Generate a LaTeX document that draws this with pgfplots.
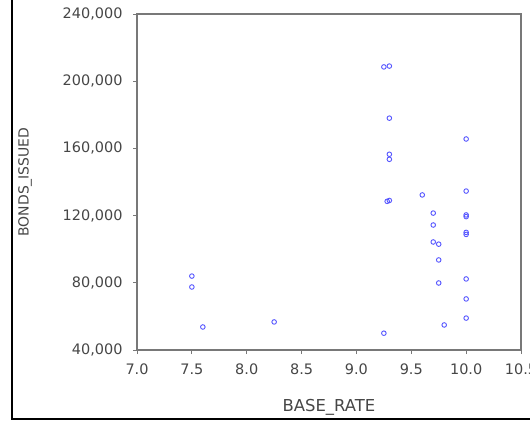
\documentclass[border=0pt]{standalone}
\usepackage{pgfplots}
\pgfplotsset{compat=1.18}
\usepackage{fontspec}
\setmainfont{DejaVu Sans}
\definecolor{ptblue}{RGB}{85,85,255}
\definecolor{framegray}{RGB}{120,120,120}
\definecolor{labgray}{RGB}{70,70,70}

\begin{document}
\begin{tikzpicture}[x=1bp,y=1bp]
\path[use as bounding box] (0,0) rectangle (530,421);
% outer frame (left and bottom edges of the window)
\draw[black, line width=2.2bp] (12,421) -- (12,2) -- (530,2);
\begin{axis}[
at={(137bp,71bp)}, anchor=south west,
scale only axis,
width=384bp, height=336bp,
xmin=7, xmax=10.5,
ymin=40000, ymax=240000,
xtick={7,7.5,8,8.5,9,9.5,10,10.5},
ytick={40000,80000,120000,160000,200000,240000},
scaled y ticks=false,
tick align=outside,
tick pos=left,
major tick length=4bp,
axis line style={framegray, line width=1.6bp},
every tick/.style={framegray, line width=0.8bp},
/pgf/number format/assume math mode=true,
tick label style={font=\fontsize{14.5}{14.5}\selectfont, text=labgray},
x tick label style={yshift=-6bp, /pgf/number format/.cd, fixed, fixed zerofill, precision=1},
y tick label style={xshift=-7bp, /pgf/number format/.cd, fixed, 1000 sep={,}},
xlabel={BASE\_RATE},
ylabel={BONDS\_ISSUED},
xlabel style={at={(axis description cs:0.5,-0.1696)}, anchor=center, font=\fontsize{16.5}{16.5}\selectfont, text=labgray},
ylabel style={at={(axis description cs:-0.2917,0.5)}, anchor=center, font=\fontsize{14}{14}\selectfont, text=labgray},
]
\addplot[only marks, mark=o, mark size=2.3bp, ptblue, line width=0.9bp] coordinates {
(7.5,84000) (7.5,77500) (7.6,53700) (8.25,56700)
(9.25,50000) (9.25,208500) (9.3,209000) (9.3,178000)
(9.3,156500) (9.3,153500) (9.28,128500) (9.3,129000)
(9.6,132300) (9.7,121500) (9.7,114400) (9.7,104300)
(9.75,103000) (9.75,93600) (9.75,79900) (9.8,54900)
(10.0,165600) (10.0,134600) (10.0,120400) (10.0,119400)
(10.0,110000) (10.0,108800) (10.0,82300) (10.0,70400)
(10.0,59000)
};
\end{axis}
\end{tikzpicture}
\end{document}
